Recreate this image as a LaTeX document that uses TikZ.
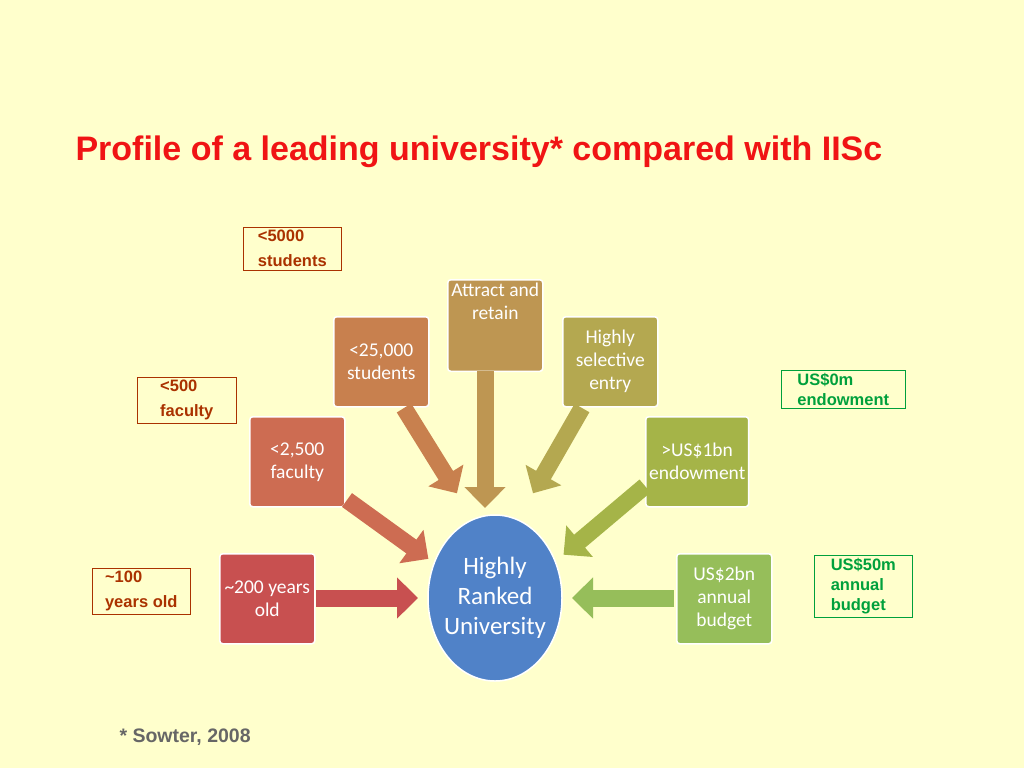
\documentclass[tikz,border=0pt]{standalone}
\usepackage{fontspec}
\setmainfont{Liberation Sans}
\newfontfamily\calfnt{Carlito}
\usetikzlibrary{arrows.meta}
\definecolor{bg}{RGB}{255,255,204}
\definecolor{ttl}{RGB}{240,20,20}
\definecolor{lred}{RGB}{170,50,0}
\definecolor{lgrn}{RGB}{0,160,60}
\definecolor{cA}{RGB}{200,128,78}
\definecolor{cB}{RGB}{190,150,82}
\definecolor{cC}{RGB}{180,168,80}
\definecolor{cD}{RGB}{205,108,82}
\definecolor{cE}{RGB}{165,180,72}
\definecolor{cF}{RGB}{200,80,80}
\definecolor{cG}{RGB}{150,190,90}
\definecolor{cH}{RGB}{80,130,200}
\begin{document}
\begin{tikzpicture}[x=1pt,y=-1pt,
  box/.style={draw=white,line width=1.5pt,rounded corners=3pt,minimum width=95pt,minimum height=90pt,text=white,align=center,font=\calfnt\fontsize{19.5}{23}\selectfont,anchor=north west},
  lab/.style={draw,line width=0.6pt,align=left,anchor=north west,font=\bfseries\fontsize{16.5}{25}\selectfont,inner xsep=7pt,inner ysep=3pt,minimum width=#1},
  arr/.style={line width=17pt,-{Triangle[length=21pt,width=40pt]},shorten >=2pt}]
\fill[bg] (0,0) rectangle (1024,768);
\useasboundingbox (0,0) rectangle (1024,768);
\node[anchor=west,text=ttl,font=\bfseries\fontsize{34}{38}\selectfont] (title) at (72,152) {Profile of a leading university* compared with IISc};
\node[box,fill=cA] (a) at (333,316) {<25,000\\students};
\node[box,fill=cB] (b) at (447,279) {Attract and\\retain\\[1.3em]};
\node[box,fill=cC] (c) at (562,316) {Highly\\selective\\entry};
\node[box,fill=cD] (d) at (249,416) {<2,500\\faculty};
\node[box,fill=cE] (e) at (645,416) {>US\$1bn\\endowment};
\node[box,fill=cF] (f) at (219,553) {\textasciitilde200 years\\old};
\node[box,fill=cG] (g) at (676,553) {US\$2bn\\annual\\budget};
\draw[white,line width=1.5pt,fill=cH] (495,598) ellipse [x radius=67,y radius=83];
\node[text=white,align=center,font=\calfnt\fontsize{25}{30}\selectfont] (h) at (495,598) {Highly\\Ranked\\University};
\coordinate (ha) at (458,495);
\coordinate (hb) at (485,510);
\coordinate (hc) at (532,495);
\coordinate (hd) at (430,560);
\coordinate (he) at (562,556);
\coordinate (hf) at (420,598);
\coordinate (hg) at (570,598);
\draw[arr,cA] (404,408) -- (ha);
\draw[arr,cB] (485,371) -- (hb);
\draw[arr,cC] (582,408) -- (hc);
\draw[arr,cD] (347,500) -- (hd);
\draw[arr,cE] (645,486) -- (he);
\draw[arr,cF] (316,598) -- (hf);
\draw[arr,cG] (674,598) -- (hg);
\node[lab=98pt,draw=lred,text=lred] (l1) at (243,227) {<5000\\students};
\node[lab=99pt,draw=lred,text=lred] (l2) at (137,377) {<500\\faculty};
\node[lab=98pt,draw=lred,text=lred] (l3) at (92,568) {\textasciitilde100\\years old};
\node[lab=124pt,draw=lgrn,text=lgrn,font=\bfseries\fontsize{16.5}{20}\selectfont] (l4) at (781,370) {US\$0m\\endowment};
\node[lab=98pt,draw=lgrn,text=lgrn,font=\bfseries\fontsize{16.5}{20}\selectfont] (l5) at (814,555) {US\$50m\\annual\\budget};
\node[anchor=west,text=gray!80!black,font=\bfseries\fontsize{19.5}{22}\selectfont] (fn) at (116,737) {* Sowter, 2008};
\end{tikzpicture}
\end{document}
